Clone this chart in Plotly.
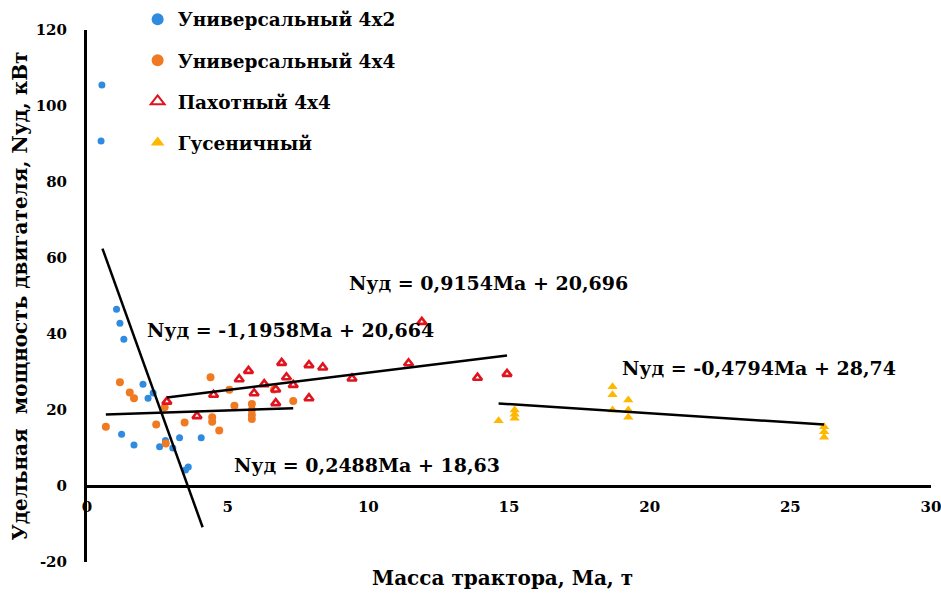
import plotly.graph_objects as go

# Tractor mass (t) and specific engine power (kW) by tractor type
univ42_mass = [0.53, 0.50, 1.05, 1.17, 1.31, 1.99, 2.17, 2.35, 1.23, 1.67, 2.58, 2.79, 3.05, 3.29, 3.50, 3.60, 4.06]
univ42_power = [105.5, 90.8, 46.5, 42.8, 38.6, 26.8, 23.1, 24.5, 13.6, 10.8, 10.3, 12.0, 10.0, 12.7, 4.2, 5.0, 12.7]

univ44_mass = [0.67, 1.17, 1.52, 1.67, 2.46, 2.76, 2.80, 3.47, 4.39, 4.45, 4.45, 4.70, 5.06, 5.24,
               5.86, 5.86, 5.86, 5.86, 6.65, 7.33]
univ44_power = [15.6, 27.3, 24.6, 23.1, 16.2, 20.7, 11.2, 16.7, 28.6, 18.1, 16.9, 14.6, 25.3, 21.1,
                21.6, 20.0, 18.7, 17.6, 25.4, 22.4]

plough_mass = [2.84, 3.91, 4.50, 5.41, 5.74, 5.94, 6.30, 6.71, 6.71, 6.92, 7.09, 7.33, 7.89, 7.89,
               8.38, 9.42, 11.43, 11.90, 13.88, 14.93]
plough_power = [22.2, 18.4, 24.0, 28.1, 30.3, 24.4, 26.8, 25.4, 21.8, 32.4, 28.6, 26.6, 31.8, 23.1,
                31.2, 28.3, 32.3, 43.2, 28.5, 29.5]

crawler_mass = [14.63, 15.2, 15.2, 15.2, 18.68, 18.68, 18.68, 19.24, 19.24, 19.24, 26.2, 26.2, 26.2]
crawler_power = [17.2, 20.0, 18.9, 17.8, 26.1, 24.0, 20.0, 22.6, 20.0, 18.1, 15.6, 14.3, 12.8]

series_names = ["Универсальный 4x2", "Универсальный 4x4", "Пахотный 4x4", "Гусеничный"]

# Trend lines: slope, intercept and mass span for each group
fit_slope = [-20.6, 0.2488, 0.9154, -0.4794]
fit_intercept = [73.8, 18.63, 20.696, 28.74]
fit_x0 = [0.55, 0.67, 2.84, 14.63]
fit_x1 = [4.11, 7.33, 14.93, 26.2]

fit_labels = ["Nуд = -1,1958Ма + 20,664", "Nуд = 0,2488Ма + 18,63",
              "Nуд = 0,9154Ма + 20,696", "Nуд = -0,4794Ма + 28,74"]
fit_label_x = [2.05, 5.16, 9.23, 18.96]
fit_label_y = [41.0, 5.5, 53.4, 31.0]

x_ticks = [0, 5, 10, 15, 20, 25, 30]
y_ticks = [-20, 0, 20, 40, 60, 80, 100, 120]

FONT = "DejaVu Serif"

fig = go.Figure()

fig.add_trace(go.Scatter(
    x=univ42_mass, y=univ42_power, mode="markers", name=series_names[0], legendgroup="a",
    marker=dict(symbol="circle", size=7, color="#2E8BE0")))
fig.add_trace(go.Scatter(
    x=univ44_mass, y=univ44_power, mode="markers", name=series_names[1], legendgroup="b",
    marker=dict(symbol="circle", size=8, color="#F07A22")))
fig.add_trace(go.Scatter(
    x=plough_mass, y=plough_power, mode="markers", name=series_names[2], legendgroup="c",
    marker=dict(symbol="triangle-up", size=8, color="white", line=dict(color="#E0141E", width=2.6))))
fig.add_trace(go.Scatter(
    x=crawler_mass, y=crawler_power, mode="markers", name=series_names[3], legendgroup="d",
    marker=dict(symbol="triangle-up", size=9, color="#FFB800")))

for s, b, a0, a1 in zip(fit_slope, fit_intercept, fit_x0, fit_x1):
    fig.add_trace(go.Scatter(
        x=[a0, a1], y=[s * a0 + b, s * a1 + b], mode="lines", showlegend=False,
        line=dict(color="black", width=2.5), hoverinfo="skip"))

for txt, lx, ly in zip(fit_labels, fit_label_x, fit_label_y):
    fig.add_annotation(x=lx, y=ly, text="<b>" + txt + "</b>", showarrow=False,
                       xanchor="left", yanchor="middle",
                       font=dict(family=FONT, size=19, color="black"))

# x-axis title below the plot area
fig.add_annotation(xref="paper", yref="paper", x=0.492, y=-0.03,
                   text="<b>Масса трактора, Ма, т</b>",
                   showarrow=False, xanchor="center", yanchor="middle",
                   font=dict(family=FONT, size=20, color="black"))

fig.update_layout(
    width=941, height=593,
    margin=dict(l=87, r=10, t=30, b=31, autoexpand=False),
    paper_bgcolor="white", plot_bgcolor="white",
    font=dict(family=FONT, color="black"),
    showlegend=True,
    legend=dict(x=0.06, y=1.055, xanchor="left", yanchor="top", bgcolor="rgba(0,0,0,0)",
                font=dict(family=FONT, size=18.5, color="black"),
                tracegroupgap=14, itemsizing="constant"),
    xaxis=dict(range=[0, 30], tickvals=x_ticks, ticktext=["<b>%d</b>" % v for v in x_ticks],
               showgrid=False, zeroline=False, showline=True, linecolor="black", linewidth=3,
               anchor="free", position=20 / 140, ticks="", ticklabelstandoff=6,
               ticklabeloverflow="allow",
               tickfont=dict(family=FONT, size=15, color="black")),
    yaxis=dict(range=[-20, 120], tickvals=y_ticks, ticktext=["<b>%d</b>" % v for v in y_ticks],
               showgrid=False, zeroline=False, showline=True, linecolor="black", linewidth=3,
               ticks="", ticklabelstandoff=14,
               tickfont=dict(family=FONT, size=15, color="black"),
               title=dict(text="<b>Удельная  мощность двигателя, Nуд, кВт</b>", standoff=3,
                          font=dict(family=FONT, size=20, color="black"))),
)

for tr in fig.data:
    if tr.name:
        tr.name = "<b>" + tr.name + "</b>"

fig.write_html("out.html")
